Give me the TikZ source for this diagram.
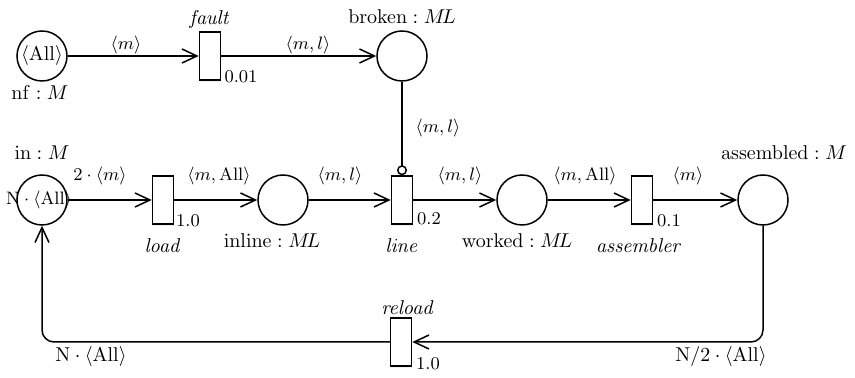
\documentclass[tikz,border=0pt]{standalone}
\usetikzlibrary{arrows.meta,shadows}
\begin{document}
\begin{tikzpicture}[x=0.5pt,y=-0.5pt,
  place/.style={circle,draw,line width=0.75pt,minimum size=25pt,inner sep=0pt},
  trans/.style={rectangle,draw,line width=0.75pt,minimum width=10.5pt,minimum height=24pt,inner sep=0pt,fill=white,
     drop shadow={opacity=0.12,shadow xshift=0pt,shadow yshift=-1.2pt}},
  arc/.style={line width=0.75pt,-{Straight Barb[length=7.5pt,width=7pt,line width=0.75pt]}},
  elab/.style={font=\fontsize{9}{11}\selectfont,inner sep=0pt},
  blab/.style={font=\fontsize{9.7}{11}\selectfont,inner sep=0pt},
  rate/.style={font=\fontsize{9}{11}\selectfont,inner sep=0pt},
  lab/.style={font=\fontsize{10}{12}\selectfont,inner sep=0pt}]
\useasboundingbox (0,0) rectangle (855,378);
% places
\node[place] (nf) at (42,56) {$\langle\mathrm{All}\rangle$};
\node[place] (broken) at (402,56) {};
\node[place] (in) at (42,200) {};
\node[place] (inline) at (283,200) {};
\node[place] (worked) at (522,200) {};
\node[place] (assembled) at (763,200) {};
% transitions
\node[trans] (fault) at (210,56) {};
\node[trans] (load) at (163,200) {};
\node[trans] (line) at (402,200) {};
\node[trans] (assembler) at (642,200) {};
\node[trans] (reload) at (401,342) {};
% place labels
\node[lab] (nfl) at (40,93) {$\mathrm{nf}:M$};
\node[lab] (brokenl) at (402,17) {$\mathrm{broken}:M\!L$};
\node[lab] (inl) at (42,153) {$\mathrm{in}:M$};
\node[lab] (inlinel) at (272,241) {$\mathrm{inline}:M\!L$};
\node[lab] (workedl) at (517,241) {$\mathrm{worked}:M\!L$};
\node[lab] (assembledl) at (784,153) {$\mathrm{assembled}:M$};
% transition labels
\node[lab] (faultl) at (210,20) {$\mathit{fault}$};
\node[lab] (loadl) at (163,246) {$\mathit{load}$};
\node[lab] (linel) at (402,246) {$\mathit{line}$};
\node[lab] (assemblerl) at (639,246) {$\mathit{assembler}$};
\node[lab] (reloadl) at (408,308) {$\mathit{reload}$};
% rates
\node[rate] (faultr) at (241,77) {0.01};
\node[rate] (loadr) at (188,221) {1.0};
\node[rate] (liner) at (429,219) {0.2};
\node[rate] (assemblerr) at (669,221) {0.1};
\node[rate] (reloadr) at (428,364) {1.0};
% arcs
\draw[arc] (nf) -- (fault);
\draw[arc] (fault) -- (broken);
\draw[arc] (in) -- (load);
\draw[arc] (load) -- (inline);
\draw[arc] (inline) -- (line);
\draw[arc] (line) -- (worked);
\draw[arc] (worked) -- (assembler);
\draw[arc] (assembler) -- (assembled);
\draw[line width=0.75pt,-{Circle[open,length=5pt,width=5pt,line width=0.75pt]}] (broken) -- (line);
\coordinate (br) at (763,342);
\coordinate (bl) at (42,342);
\draw[arc,rounded corners=6pt] (assembled) -- (br) -- (reload);
\draw[arc,rounded corners=6pt] (reload) -- (bl) -- (in);
% token text of place "in"
\node[lab,font=\fontsize{9}{11}\selectfont] (intok) at (39,200) {$\mathrm{N}\cdot\langle\mathrm{All}\rangle$};
% arc labels
\node[elab] (a1) at (126,45) {$\langle m\rangle$};
\node[elab] (a2) at (308,45) {$\langle m,l\rangle$};
\node[elab] (a3) at (438,128) {$\langle m,l\rangle$};
\node[elab] (a4) at (100,176) {$2\cdot\langle m\rangle$};
\node[elab] (a5) at (219,176) {$\langle m,\mathrm{All}\rangle$};
\node[elab] (a6) at (340,176) {$\langle m,l\rangle$};
\node[elab] (a7) at (460,176) {$\langle m,l\rangle$};
\node[elab] (a8) at (585,176) {$\langle m,\mathrm{All}\rangle$};
\node[elab] (a9) at (688,176) {$\langle m\rangle$};
\node[blab] (a10) at (91,357) {$\mathrm{N}\cdot\langle\mathrm{All}\rangle$};
\node[blab] (a11) at (721,357) {$\mathrm{N}/2\cdot\langle\mathrm{All}\rangle$};
\end{tikzpicture}
\end{document}
